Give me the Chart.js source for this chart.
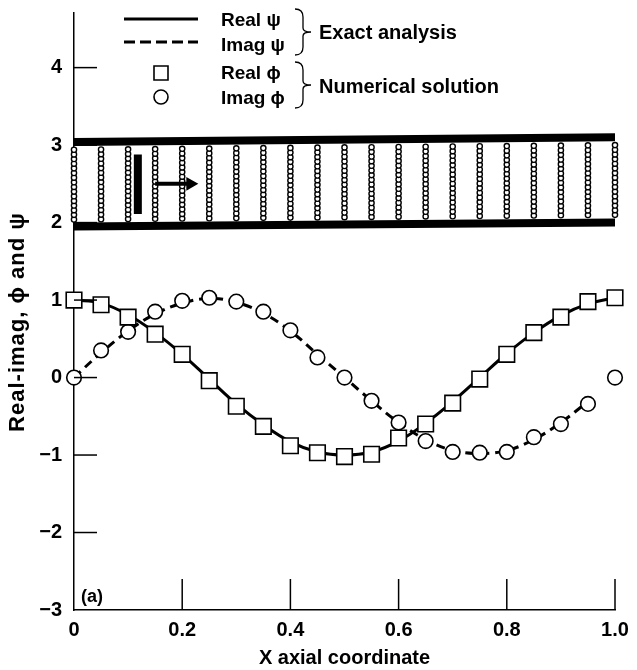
<!DOCTYPE html>
<html><head><meta charset="utf-8">
<style>html,body{margin:0;padding:0;background:#fff}#w{position:relative;width:637px;height:670px}</style>
<script src="https://cdn.jsdelivr.net/npm/chart.js@4/dist/chart.umd.min.js"></script>
</head><body><div id="w"><canvas id="c" width="637" height="670"></canvas></div>
<script>
const xCoord=[0,0.05,0.1,0.15,0.2,0.25,0.3,0.35,0.4,0.45,0.5,0.55,0.6,0.65,0.7,0.75,0.8,0.85,0.9,0.95,1.0];
const realPhi=[1.0,0.94,0.78,0.56,0.30,-0.04,-0.37,-0.63,-0.88,-0.97,-1.02,-0.99,-0.78,-0.60,-0.33,-0.02,0.30,0.58,0.78,0.98,1.03];
const imagPhi=[0,0.35,0.59,0.85,0.99,1.03,0.98,0.85,0.61,0.26,0,-0.30,-0.58,-0.82,-0.96,-0.97,-0.96,-0.77,-0.60,-0.34,0];
const realPsi=[1.0,0.96,0.81,0.58,0.30,-0.02,-0.34,-0.61,-0.83,-0.96,-1.0,-0.96,-0.82,-0.59,-0.31,0,0.31,0.58,0.80,0.95,1.03];
const imagPsi=[0,0.32,0.60,0.82,0.96,1.02,0.97,0.83,0.60,0.30,0,-0.30,-0.58,-0.80,-0.94,-0.98,-0.94,-0.80,-0.58,-0.31];
const meshY=[2.04,2.10,2.16,2.22,2.28,2.34,2.40,2.46,2.52,2.58,2.64,2.70,2.76,2.82,2.88,2.94];
const meshLift=[0,0.003,0.006,0.009,0.012,0.015,0.018,0.021,0.024,0.027,0.03,0.033,0.036,0.039,0.042,0.045,0.048,0.051,0.054,0.057,0.06];
const wallTopX=[0,1], wallTopY=[3.04,3.10];
const wallBottomX=[0,1], wallBottomY=[1.95,2.00];
const barX=[0.118,0.118], barY=[2.88,2.11];
const arrowX=[0.15,0.215], arrowY=[2.50,2.50];
const yTicks=[-3,-2,-1,0,1,2,3,4];
const xTicks=[0,0.2,0.4,0.6,0.8,1.0];
const yTickLabels={"-3":"\u22123","-2":"\u22122","-1":"\u22121","0":"0","1":"1","2":"2","3":"3","4":"4"};
const xTickLabels={"0":"0","0.2":"0.2","0.4":"0.4","0.6":"0.6","0.8":"0.8","1":"1.0"};
const innerYTicks=[-2,-1,0,1,2,3,4];
const innerXTicks=[0.2,0.4,0.6,0.8,1.0];
const xTitle="X axial coordinate", yTitle="Real-imag, \u03D5 and \u03C8";
const legendLabels=["Real \u03C8","Imag \u03C8","Real \u03D5","Imag \u03D5"];
const groupLabels=["Exact analysis","Numerical solution"];
const panelLabel="(a)";

const FONT="'Liberation Sans',Arial,sans-serif";
const zip=(a,b)=>b.map((v,i)=>({x:a[i],y:v}));
const meshPts=[];
xCoord.forEach((x,i)=>meshY.forEach(y=>meshPts.push({x:x,y:y+meshLift[i]})));

function brace(ctx,x,y0,y1,tip){
  const m=(y0+y1)/2;
  ctx.beginPath();
  ctx.moveTo(x-8,y0);
  ctx.quadraticCurveTo(x,y0,x,y0+8);
  ctx.lineTo(x,m-4);
  ctx.quadraticCurveTo(x,m,tip,m);
  ctx.quadraticCurveTo(x,m,x,m+4);
  ctx.lineTo(x,y1-8);
  ctx.quadraticCurveTo(x,y1,x-8,y1);
  ctx.stroke();
}
const deco={id:'deco',
 afterDraw(ch){
  const c=ch.ctx,xs=ch.scales.x,ys=ch.scales.y,a=ch.chartArea;
  c.save();
  c.strokeStyle='#000';c.lineWidth=1.5;
  innerYTicks.forEach(v=>{const p=ys.getPixelForValue(v);c.beginPath();c.moveTo(a.left,p);c.lineTo(a.left+23,p);c.stroke();});
  innerXTicks.forEach(v=>{const p=xs.getPixelForValue(v);c.beginPath();c.moveTo(p,a.bottom-1);c.lineTo(p,a.bottom-31);c.stroke();});
  c.fillStyle='#000';c.textBaseline='alphabetic';c.textAlign='left';
  c.lineWidth=3;c.beginPath();c.moveTo(124,19);c.lineTo(198,19);c.stroke();
  c.setLineDash([11,5]);c.beginPath();c.moveTo(124,42);c.lineTo(198,42);c.stroke();c.setLineDash([]);
  c.lineWidth=1.6;c.fillStyle='#fff';
  c.beginPath();c.rect(154,66,14,14);c.fill();c.stroke();
  c.beginPath();c.arc(161,97,7,0,Math.PI*2);c.fill();c.stroke();
  c.lineWidth=1.3;
  brace(c,303,9,55,311);brace(c,303,62,108,311);
  c.fillStyle='#000';
  c.font='bold 19px '+FONT;
  [26,51,79,104].forEach((y,i)=>c.fillText(legendLabels[i],221,y));
  c.font='bold 20px '+FONT;
  c.fillText(groupLabels[0],319,39);
  c.fillText(groupLabels[1],319,93);
  c.font='bold 18px '+FONT;
  c.fillText(panelLabel,81,602);
  c.save();
  c.translate(24,322);c.rotate(-Math.PI/2);c.textAlign='center';
  c.font='bold 22px '+FONT;
  c.letterSpacing='1px';
  c.fillText(yTitle,0,0);
  c.restore();
  c.restore();
 }};

new Chart(document.getElementById('c'),{
 type:'line',
 data:{datasets:[
  {data:zip(xCoord,realPhi),order:1,showLine:false,pointStyle:'rect',pointRadius:11,pointBackgroundColor:'#fff',pointBorderColor:'#000',pointBorderWidth:1.6,clip:false},
  {data:zip(xCoord,imagPhi),order:2,showLine:false,pointStyle:'circle',pointRadius:7.3,pointBackgroundColor:'#fff',pointBorderColor:'#000',pointBorderWidth:1.6,clip:false},
  {data:zip(xCoord,realPsi),order:3,borderColor:'#000',borderWidth:3,pointRadius:0,tension:0.4,clip:false},
  {data:zip(xCoord,imagPsi),order:4,borderColor:'#000',borderWidth:3,borderDash:[9,6],pointRadius:0,tension:0.4,clip:false},
  {data:zip(wallTopX,wallTopY),order:5,borderColor:'#000',borderWidth:8,pointRadius:0,clip:false},
  {data:zip(wallBottomX,wallBottomY),order:5,borderColor:'#000',borderWidth:8,pointRadius:0,clip:false},
  {data:zip(barX,barY),order:5,borderColor:'#000',borderWidth:8,pointRadius:0,clip:false},
  {data:zip(arrowX,arrowY),order:5,borderColor:'#000',borderWidth:4,clip:false,
   pointRadius:[0,8],pointStyle:'triangle',pointRotation:90,pointBackgroundColor:'#000',pointBorderColor:'#000',pointBorderWidth:0},
  {data:meshPts,order:6,showLine:false,pointStyle:'circle',pointRadius:2.6,pointBackgroundColor:'#fff',pointBorderColor:'#000',pointBorderWidth:1.4,clip:false}
 ]},
 options:{
  responsive:false,animation:false,events:[],
  layout:{padding:{top:10,right:22,left:0,bottom:0}},
  plugins:{legend:{display:false},tooltip:{enabled:false}},
  scales:{
   x:{type:'linear',min:0,max:1,
    afterBuildTicks(s){s.ticks=xTicks.map(v=>({value:v}));},
    afterFit(s){s.height=60;s.paddingLeft=0;s.paddingRight=0;},
    grid:{display:false,drawTicks:false},
    border:{display:true,color:'#000',width:1.5},
    ticks:{color:'#000',padding:8,maxRotation:0,autoSkip:false,font:{family:FONT,size:20,weight:'bold'},callback:v=>xTickLabels[String(v)]},
    title:{display:true,text:xTitle,color:'#000',padding:{top:3,bottom:0},font:{family:FONT,size:20,weight:'bold'}}
   },
   y:{type:'linear',min:-3,max:4.71,
    afterBuildTicks(s){s.ticks=yTicks.map(v=>({value:v}));},
    afterFit(s){s.width=74;s.paddingTop=0;s.paddingBottom=0;},
    grid:{display:false,drawTicks:false},
    border:{display:true,color:'#000',width:1.5},
    ticks:{color:'#000',padding:12,autoSkip:false,font:{family:FONT,size:20,weight:'bold'},callback:v=>yTickLabels[String(v)]}
   }
  }
 },
 plugins:[deco]
});
</script></body></html>
